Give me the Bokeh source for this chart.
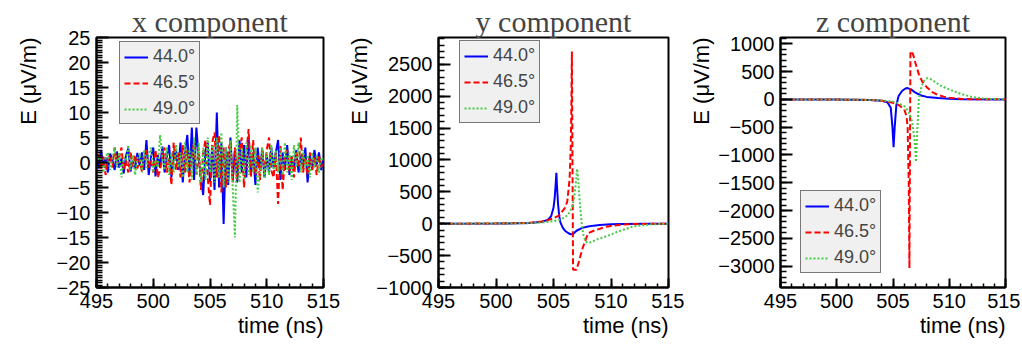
from bokeh.plotting import figure
from bokeh.layouts import row
from bokeh.models import Range1d, SingleIntervalTicker, CustomJSTickFormatter, Title
from bokeh.embed import file_html
from bokeh.resources import INLINE

# ---------------- data ----------------
labels = ["44.0°", "46.5°", "49.0°"]
titles = ["x component", "y component", "z component"]
x_label = "time (ns)"
y_label = "E (μV/m)"

# x component: sampled every 0.2 ns from 495 to 515
t_x = [round(495 + 0.2 * i, 2) for i in range(101)]
ex_44 = [1.5, -1.2, 2.5, -0.8, 1.0, -2.0, 1.8, 0.5, -1.5, 2.2,
         -1.0, 0.8, -2.2, 1.5, 2.8, -1.8, 0.4, -1.2, 1.9, -0.6,
         2.0, -1.5, 4.5, -2.5, 1.0, 3.0, -2.8, 1.5, -1.0, 3.2,
         -2.0, 1.2, 3.5, -3.0, 0.8, 2.5, -1.5, 4.0, -4.0, 2.0,
         5.5, -2.5, 7.0, -3.5, 7.0, 1.0, -3.0, -6.5, 2.5, 4.0,
         -4.0, 3.5, -5.5, 10.0, -5.0, 4.0, -12.3, 3.0, -4.5, 5.0,
         -3.5, 2.5, -4.0, 4.5, -2.0, 3.5, -3.0, 5.0, -2.5, 2.0,
         -4.5, 3.0, -1.5, 2.5, -3.0, 1.5, -2.0, 3.0, -1.0, 2.0,
         4.5, -3.5, 2.0, -1.5, 3.5, -2.5, 1.0, -1.5, 2.5, -2.0,
         1.5, -1.0, 3.0, -4.0, 1.5, -1.5, 2.5, -0.5, 2.0, -1.5, 1.0]
ex_465 = [0.5, 2.0, -1.5, 1.2, -2.5, 0.8, 1.5, -1.0, 3.0, -0.5,
          1.0, 3.0, -1.5, 0.5, -2.0, 2.2, -0.8, 1.5, -1.2, 0.6,
          -1.8, 1.0, 2.5, -1.0, 0.5, -2.0, 2.5, -3.0, -1.5, 1.5,
          3.0, -2.0, 1.0, -4.5, 4.0, -1.5, 2.0, -3.0, 3.5, -2.0,
          2.5, -4.0, 1.5, 4.0, -2.5, 3.0, -5.5, 2.0, 4.5, -3.0,
          -8.5, 4.0, 6.0, -3.0, 5.5, -6.0, 3.0, -5.0, 2.5, 4.0,
          -4.0, 3.0, -3.5, 2.0, 5.0, -5.0, 2.0, 6.7, -3.0, 4.5,
          -2.5, 1.5, -3.5, 3.0, -2.0, 2.5, 5.0, -1.5, -3.0, 2.0,
          -8.3, 3.5, -5.5, 1.0, 2.5, -2.0, 1.5, -3.0, 2.0, -1.0,
          5.0, -2.0, 1.0, -2.5, 2.0, -1.5, 1.0, -2.5, 1.5, -1.0, 0.5]
ex_49 = [-1.0, 1.5, 0.5, -2.0, 1.0, 2.0, -1.5, 0.8, 3.0, -1.0,
         2.0, -3.0, 1.0, 0.5, 3.5, -1.5, 1.5, -2.5, 0.8, 1.8,
         -2.0, 2.5, -1.0, 1.5, 3.0, -2.0, 0.5, -1.0, 5.5, 1.0,
         -1.5, 3.0, -2.5, 2.0, -2.0, 3.5, -1.0, 2.0, -3.0, 4.0,
         -2.0, 3.0, -3.5, 5.0, -2.5, 4.0, -4.0, 3.0, -3.5, 5.0,
         -2.0, 3.5, -4.0, 5.0, -3.0, 6.0, -5.0, 3.0, -4.0, 4.5,
         -5.0, -15.0, 11.5, -4.0, 3.0, -3.5, 4.0, -2.5, 3.5, -2.0,
         3.0, -6.0, -2.0, 3.0, -3.0, 2.0, -2.5, 3.5, -1.5, 2.5,
         -2.0, 3.0, -2.5, 4.0, -2.0, 2.0, -3.5, 3.5, -1.0, 4.0,
         -2.0, 2.5, -1.0, 1.5, -3.0, 2.0, -1.0, 1.5, -2.0, 1.0, 0.5]

# y component
ty_44 = [495, 500, 503, 504, 504.5, 504.8, 505.0, 505.1, 505.2, 505.25, 505.3, 505.4,
         505.5, 505.6, 505.8, 506.0, 506.3, 506.5, 506.7, 507.0, 507.5, 508.0, 508.5,
         509, 510, 511, 513, 515]
ey_44 = [0, 2, 10, 30, 60, 120, 250, 400, 650, 800, 600, 300,
         120, 20, -60, -110, -150, -165, -160, -110, -65, -45, -30,
         -20, -8, -3, 0, 0]
ty_465 = [495, 500, 503, 504, 504.5, 505, 505.5, 506, 506.2, 506.4, 506.5, 506.55, 506.6,
          506.7, 507.0, 507.2, 507.5, 507.8, 508.0, 508.5, 509, 509.5, 510, 511, 512, 515]
ey_465 = [0, 3, 15, 35, 55, 85, 130, 250, 350, 700, 1200, 1800, 2700,
          -720, -720, -600, -400, -250, -150, -110, -80, -50, -35, -12, -4, 0]
ty_49 = [495, 500, 503, 504, 505, 505.5, 506, 506.3, 506.6, 506.8, 506.95, 507.05, 507.15,
         507.3, 507.45, 507.6, 507.8, 508.0, 508.3, 508.7, 509.2, 509.7, 510.5, 511.0,
         512.0, 513.5, 515]
ey_49 = [0, 3, 10, 20, 40, 60, 100, 150, 250, 400, 650, 860, 700,
         300, 0, -180, -280, -300, -290, -250, -220, -190, -130, -100,
         -40, -10, 0]

# z component
tz_44 = [495, 500, 503, 504, 504.5, 504.8, 504.95, 505.05, 505.15, 505.3, 505.5, 505.8,
         506.1, 506.3, 506.6, 507.0, 507.5, 508.0, 509, 510, 511, 515]
ez_44 = [0, -2, -10, -25, -50, -150, -500, -860, -500, -100, 60, 150,
         195, 203, 180, 120, 70, 45, 25, 10, 3, 0]
tz_465 = [495, 500, 503, 504, 505, 505.5, 506.0, 506.2, 506.3, 506.4, 506.46, 506.55,
          506.65, 506.8, 507.0, 507.3, 507.6, 508.0, 508.5, 509, 509.5, 510, 511, 512, 515]
ez_465 = [0, -3, -10, -25, -60, -100, -180, -300, -500, -1500, -3035, 850,
          867, 800, 650, 450, 320, 220, 130, 80, 50, 30, 10, 3, 0]
tz_49 = [495, 500, 503, 504, 505, 505.5, 506.0, 506.4, 506.7, 506.9, 507.0, 507.05,
         507.15, 507.3, 507.5, 507.7, 508.0, 508.3, 508.7, 509.2, 510, 511, 512, 513, 515]
ez_49 = [0, -2, -10, -20, -40, -70, -120, -220, -400, -700, -950, -1125,
         -600, 0, 200, 320, 380, 370, 320, 250, 180, 100, 45, 15, 0]

x_range = (495, 515)
y_ranges = [(-25, 25), (-1000, 2920), (-3383, 1113)]
y_intervals = [5, 500, 500]
y_minors = [10, 5, 5]

# ---------------- styling ----------------
colors = ["#0000ff", "#ff0000", "#44cc44"]
dashes = ["solid", "6 3", "2 2"]
SANS = "Liberation Sans"

minus_fmt = "return tick < 0 ? '\u2212' + (-tick) : String(tick);"


def make_panel(title, series, yr, yint, yminor, width, bl, br, legend_loc, ylab_standoff):
    p = figure(width=width, height=349, output_backend="svg", toolbar_location=None,
               x_range=Range1d(*x_range), y_range=Range1d(*yr),
               min_border_left=bl, min_border_right=br, min_border_top=37,
               min_border_bottom=62)
    p.title.text = title
    p.title.text_font = "Liberation Serif"
    p.title.text_font_size = "30px"
    p.title.text_font_style = "normal"
    p.title.align = "center"
    p.title.standoff = 0
    p.grid.visible = False
    p.outline_line_color = "black"
    p.outline_line_width = 2
    p.outline_line_alpha = 1
    p.background_fill_color = "white"
    p.border_fill_color = "white"

    for (t, v), lab, c, d in zip(series, labels, colors, dashes):
        p.line(t, v, color=c, line_width=2, line_dash=d, legend_label=lab)

    xa = p.xaxis[0]
    xa.ticker = SingleIntervalTicker(interval=5, num_minor_ticks=5)
    xa.major_tick_in = 9
    xa.major_tick_out = 0
    xa.minor_tick_in = 4
    xa.minor_tick_out = 0
    ya = p.yaxis[0]
    ya.ticker = SingleIntervalTicker(interval=yint, num_minor_ticks=yminor)
    ya.formatter = CustomJSTickFormatter(code=minus_fmt)
    ya.major_tick_in = 12
    ya.major_tick_out = 0
    ya.minor_tick_in = 6
    ya.minor_tick_out = 0
    for ax in (xa, ya):
        ax.axis_line_width = 2
        ax.major_tick_line_width = 2
        ax.minor_tick_line_width = 1.5
        ax.major_label_text_font = SANS
        ax.major_label_text_font_size = "20px"
        ax.major_label_text_color = "black"
        ax.major_label_standoff = 6

    # axis titles, aligned to the end of each axis (ROOT style)
    p.add_layout(Title(text=x_label, align="right", text_font=SANS,
                       text_font_size="22px", text_font_style="normal",
                       text_color="black", standoff=0), "below")
    p.add_layout(Title(text=y_label, align="right", text_font=SANS,
                       text_font_size="22px", text_font_style="normal",
                       text_color="black", standoff=ylab_standoff), "left")

    lg = p.legend[0]
    lg.location = legend_loc
    lg.border_line_color = "black"
    lg.border_line_width = 1.5
    lg.background_fill_color = "#f0f0f0"
    lg.background_fill_alpha = 1
    lg.label_text_font = SANS
    lg.label_text_font_size = "18px"
    lg.glyph_width = 24
    lg.glyph_height = 20
    lg.label_height = 20
    lg.spacing = 5
    lg.padding = 4
    lg.label_standoff = 5
    lg.margin = 0
    return p


p1 = make_panel(titles[0], [(t_x, ex_44), (t_x, ex_465), (t_x, ex_49)],
                y_ranges[0], y_intervals[0], y_minors[0], 340, 94, 17, (23, 163), 26)
p2 = make_panel(titles[1], [(ty_44, ey_44), (ty_465, ey_465), (ty_49, ey_49)],
                y_ranges[1], y_intervals[1], y_minors[1], 344, 98, 16, (21, 164), 4)
p3 = make_panel(titles[2], [(tz_44, ez_44), (tz_465, ez_465), (tz_49, ez_49)],
                y_ranges[2], y_intervals[2], y_minors[2], 336, 93, 15, (20, 14), 4)

layout = row(p1, p2, p3)
open("out.html", "w").write(file_html(layout, INLINE))
